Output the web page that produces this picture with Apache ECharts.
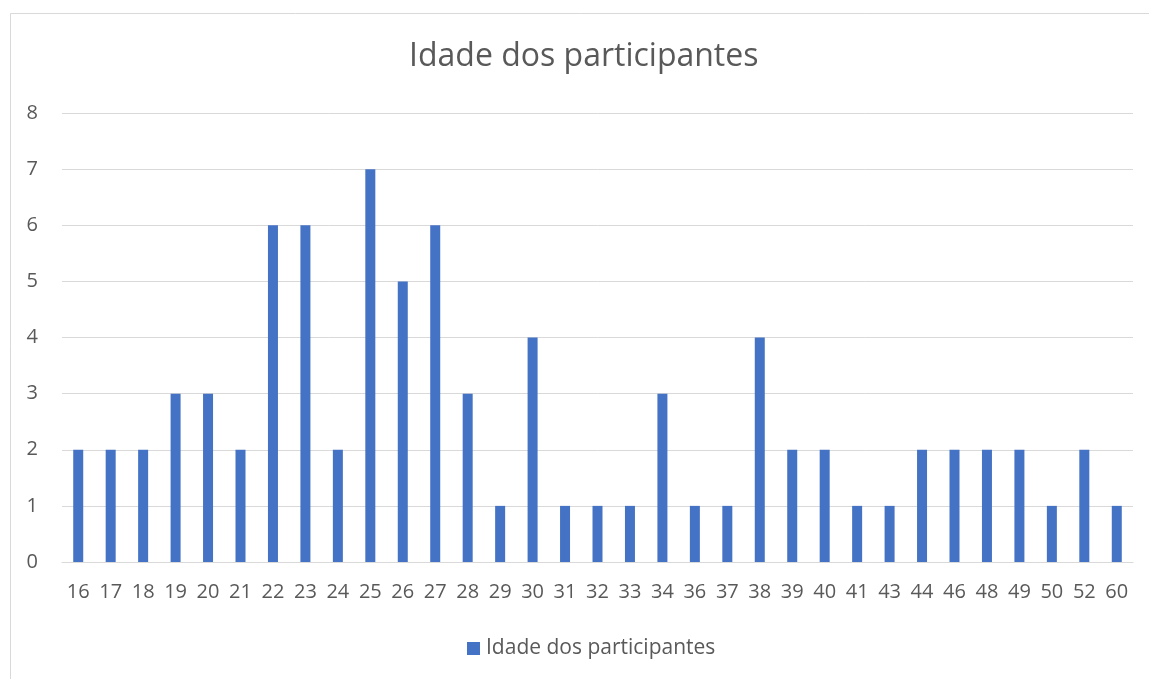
<!DOCTYPE html>
<html><head><meta charset="utf-8">
<script src="https://cdn.jsdelivr.net/npm/echarts@6/dist/echarts.min.js"></script>
<style>html,body{margin:0;padding:0;background:#fff}#c{width:1149px;height:679px}</style>
</head><body><div id="c"></div>
<script>
const titleText = 'Idade dos participantes';
const seriesName = 'Idade dos participantes';
const categories = ['16','17','18','19','20','21','22','23','24','25','26','27','28','29','30','31','32','33','34','36','37','38','39','40','41','43','44','46','48','49','50','52','60'];
const values = [2,2,2,3,3,2,6,6,2,7,5,6,3,1,4,1,1,1,3,1,1,4,2,2,1,1,2,2,2,2,1,2,1];
const yTicks = {min:0, max:8, interval:1};

const font = '"Open Sans", sans-serif';
const chart = echarts.init(document.getElementById('c'), null, {renderer:'canvas'});
chart.setOption({
  animation:false,
  backgroundColor:'#fff',
  graphic:[{type:'rect', shape:{x:10.5,y:13.5,width:1200,height:800}, style:{fill:'none',stroke:'#d9d9d9',lineWidth:1}, silent:true}],
  title:{text:titleText, left:409, top:41, padding:0, textStyle:{fontFamily:font, fontSize:32, fontWeight:'normal', color:'#595959'}},
  legend:{bottom:15, left:462, itemWidth:13, itemHeight:13, itemGap:6, icon:'rect',
    textStyle:{fontFamily:font, fontSize:21, color:'#595959', padding:[0,0,0,1]}},
  grid:{left:62, right:16, top:113, bottom:117},
  xAxis:{type:'category', data:categories,
    axisLine:{lineStyle:{color:'#d9d9d9', width:1}}, axisTick:{show:false},
    axisLabel:{fontFamily:font, fontSize:20, color:'#595959', margin:20, interval:0}},
  yAxis:{type:'value', min:yTicks.min, max:yTicks.max, interval:yTicks.interval,
    axisLine:{show:false}, axisTick:{show:false},
    splitLine:{lineStyle:{color:'#d9d9d9', width:1}},
    axisLabel:{fontFamily:font, fontSize:20, color:'#595959', margin:24}},
  series:[{name:seriesName, type:'bar', data:values, barWidth:10, itemStyle:{color:'#4472C4'}}]
});
</script></body></html>
